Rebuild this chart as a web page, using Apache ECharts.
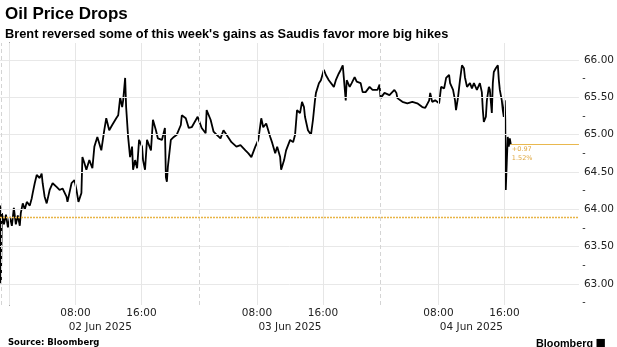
<!DOCTYPE html>
<html>
<head>
<meta charset="utf-8">
<script src="https://cdn.jsdelivr.net/npm/echarts@6/dist/echarts.min.js"></script>
<style>
html,body{margin:0;padding:0;background:#fff;}
#c{width:617px;height:347px;}
</style>
</head>
<body>
<div id="c"></div>
<script>
// Trading-hour position (hours since 00:00 02 Jun, session gaps 23:00-01:00 removed)
const hours = [-1.1,-1.04,-0.92,-0.67,-0.43,-0.19,0.05,0.29,0.53,0.77,1.01,1.25,1.37,1.61,1.86,2.10,2.46,2.70,2.82,3.06,3.30,3.66,3.90,4.02,4.26,4.51,4.87,5.23,5.71,6.07,6.43,6.91,7.03,7.52,7.88,8.12,8.36,8.72,8.84,9.08,9.32,9.68,10.05,10.29,10.65,11.13,11.49,11.73,12.09,12.45,12.94,13.18,13.42,13.66,13.78,14.02,14.14,14.26,14.38,14.62,14.86,14.98,15.23,15.47,15.71,16.07,16.19,16.43,16.67,17.15,17.39,17.75,17.99,18.48,18.84,18.96,19.08,19.20,19.56,19.92,20.28,20.77,20.89,21.37,21.73,22.09,22.81,23.30,23.78,23.90,24.38,24.74,25.10,25.58,25.94,26.31,26.91,27.51,28.00,28.60,28.96,29.32,29.80,30.16,30.52,30.76,31.12,31.61,31.85,32.21,32.45,32.81,32.93,33.29,33.53,34.02,34.38,34.62,34.86,35.22,35.46,35.70,35.82,36.18,36.55,36.79,37.03,37.15,37.51,37.75,38.11,38.35,38.71,38.95,39.32,39.56,39.92,40.16,40.40,40.64,40.76,40.88,41.24,41.48,41.84,42.09,42.57,42.81,43.17,43.65,44.01,44.61,44.86,44.98,45.46,46.06,46.66,46.90,47.02,47.63,48.23,48.83,49.43,50.04,50.40,50.88,51.00,51.24,51.60,52.08,52.32,52.69,52.93,53.29,53.41,53.77,54.01,54.13,54.37,54.61,54.85,55.09,55.21,55.46,55.82,56.06,56.30,56.66,57.02,57.26,57.38,57.50,57.75,57.87,58.11,58.23,58.47,58.59,58.71,58.95,59.20,59.32,59.44,59.68,59.80,59.92,60.04,60.10,60.16,60.28,60.40,60.52,60.65,60.77];
const prices = [64.05,63.01,63.95,63.80,63.93,63.76,63.90,63.78,64.02,63.80,63.92,63.78,63.95,64.08,64.00,64.10,64.05,64.15,64.22,64.35,64.46,64.42,64.48,64.35,64.17,64.08,64.26,64.35,64.30,64.26,64.28,64.17,64.10,64.35,64.39,64.26,64.10,64.22,64.70,64.62,64.53,64.66,64.55,64.84,64.97,64.79,65.06,65.22,65.06,65.13,65.22,65.26,65.50,65.37,65.46,65.76,65.37,65.36,64.97,64.70,64.84,64.53,64.66,64.55,64.93,64.84,64.66,64.53,64.93,64.79,65.20,65.06,64.95,64.93,65.09,64.43,64.37,64.57,64.93,64.97,65.00,65.13,65.26,65.22,65.09,65.10,65.24,65.09,65.02,65.33,65.20,65.04,65.00,64.95,65.06,65.00,64.90,64.84,64.86,64.79,64.75,64.70,64.84,64.93,65.22,65.10,65.15,64.97,64.89,64.75,64.84,64.70,64.53,64.66,64.79,64.93,64.90,65.00,65.33,65.29,65.44,65.37,65.24,65.06,65.00,65.20,65.46,65.56,65.69,65.73,65.87,65.80,65.73,65.71,65.64,65.73,65.82,65.87,65.93,65.93,65.46,65.73,65.64,65.69,65.77,65.71,65.69,65.57,65.57,65.64,65.60,65.60,65.67,65.49,65.56,65.53,65.60,65.56,65.49,65.44,65.42,65.44,65.42,65.37,65.36,65.46,65.56,65.44,65.46,65.42,65.64,65.62,65.76,65.80,65.69,65.60,65.46,65.33,65.50,65.73,65.93,65.89,65.77,65.64,65.69,65.62,65.69,65.60,65.69,65.57,65.33,65.17,65.24,65.46,65.64,65.60,65.29,65.69,65.84,65.89,65.93,65.73,65.60,65.46,65.33,65.24,65.46,65.20,64.26,64.62,64.97,64.84,64.95,64.87];

const timeTicks = [8,16,30,38,52,60];
const timeLabels = ['08:00','16:00','08:00','16:00','08:00','16:00'];
const dateTicks = [11,34,56];
const dateLabels = ['02 Jun 2025','03 Jun 2025','04 Jun 2025'];
const gridHours = [0,8,16,30,38,52,60];
const sessionBreaks = [-1,23,45];
const yTicks = [63,63.5,64,64.5,65,65.5,66];
const yMinorTicks = [62.75,63.25,63.75,64.25,64.75,65.25,65.75,66.25];
const prevClose = 63.90;
const lastPrice = 64.87;
const change = '+0.97';
const changePct = '1.52%';

const FONT = 'DejaVu Sans';
const TFONT = 'Liberation Sans';
const chart = echarts.init(document.getElementById('c'), null, {renderer:'canvas'});
const XMIN = -1.15, XMAX = 69.03, YMIN = 62.719, YMAX = 66.228;

const timeMap = {}; timeTicks.forEach((t,i)=>timeMap[t]=timeLabels[i]);
const dateMap = {}; dateTicks.forEach((t,i)=>dateMap[t]=dateLabels[i]);

chart.setOption({
  animation:false,
  title:[
    {text:'Oil Price Drops', left:0, top:1, textStyle:{fontFamily:TFONT, fontWeight:'bold', fontSize:17, color:'#000'}},
    {text:"Brent reversed some of this week's gains as Saudis favor more big hikes", left:0, top:23, textStyle:{fontFamily:TFONT, fontWeight:'bold', fontSize:12.8, color:'#000'}},
    {text:'Source: Bloomberg', left:3, top:333, textStyle:{fontFamily:FONT, fontWeight:'bold', fontSize:8.5, color:'#000'}},
    {text:'Bloomberg', right:19, top:334, textStyle:{fontFamily:TFONT, fontWeight:'bold', fontSize:10.8, color:'#000'}},
    {text:'\u25A0', right:6, top:333, textStyle:{fontFamily:FONT, fontWeight:'bold', fontSize:11, color:'#000'}}
  ],
  grid:{left:0, right:34.3, top:43, bottom:42, containLabel:false},
  xAxis:[
    {type:'value', min:XMIN, max:XMAX, position:'bottom',
     axisLine:{show:false}, axisTick:{show:false}, splitLine:{show:false},
     axisLabel:{customValues:timeTicks, formatter:v=>timeMap[v]||'', margin:3, fontFamily:FONT, fontSize:10.5, color:'#222'}},
    {type:'value', min:XMIN, max:XMAX, position:'bottom',
     axisLine:{show:false}, axisTick:{show:false}, splitLine:{show:false},
     axisLabel:{customValues:dateTicks, formatter:v=>dateMap[v]||'', margin:17, fontFamily:FONT, fontSize:10.5, color:'#222'}}
  ],
  yAxis:[
    {type:'value', position:'right', min:YMIN, max:YMAX,
    axisLine:{show:true, lineStyle:{color:'#222', width:1}},
    axisTick:{show:true, customValues:yTicks, length:4, lineStyle:{color:'#222'}},
    splitLine:{show:false},
    axisLabel:{customValues:yTicks, formatter:v=>v.toFixed(2), margin:5, fontFamily:FONT, fontSize:10.5, color:'#222'}},
    {type:'value', position:'left', offset:-582.7, min:YMIN, max:YMAX,
    axisLine:{show:false},
    axisTick:{show:true, inside:true, customValues:yMinorTicks, length:2.5, lineStyle:{color:'#444'}},
    splitLine:{show:false},
    axisLabel:{show:false}}
  ],
  series:[
    {type:'line', data:[], z:1, silent:true,
     markLine:{silent:true, symbol:'none', label:{show:false},
       data:[
         ...yTicks.map(v=>({yAxis:v, lineStyle:{color:'#e8e8e8', width:1, type:'solid'}})),
         ...gridHours.map(v=>({xAxis:v, lineStyle:{color:'#e6e6e6', width:1, type:'solid'}})),
         ...sessionBreaks.map(v=>({xAxis:v, lineStyle:{color:'#d4d4d4', width:1, type:[4,3]}}))
       ]}},
    {type:'line', data:[], z:2, silent:true,
     markLine:{silent:true, symbol:'none',
       data:[
         {yAxis:prevClose, label:{show:false}, lineStyle:{color:'#e8b446', width:1.3, type:[2,1], opacity:1}},
         [{coord:[hours[hours.length-1], lastPrice], label:{show:true, position:'insideStartBottom', formatter:change+'\n'+changePct, color:'#e0a840', fontFamily:FONT, fontSize:6.5, lineHeight:9, distance:[1,0]}, lineStyle:{color:'#e9b84e', width:1, type:'solid', opacity:1}},
          {coord:[XMAX, lastPrice]}]
       ]}},
    {type:'line', z:3, data:hours.map((h,i)=>[h,prices[i]]), showSymbol:false, symbol:'none',
     lineStyle:{color:'#000', width:1.8}, silent:true}
  ]
});
</script>
</body>
</html>
